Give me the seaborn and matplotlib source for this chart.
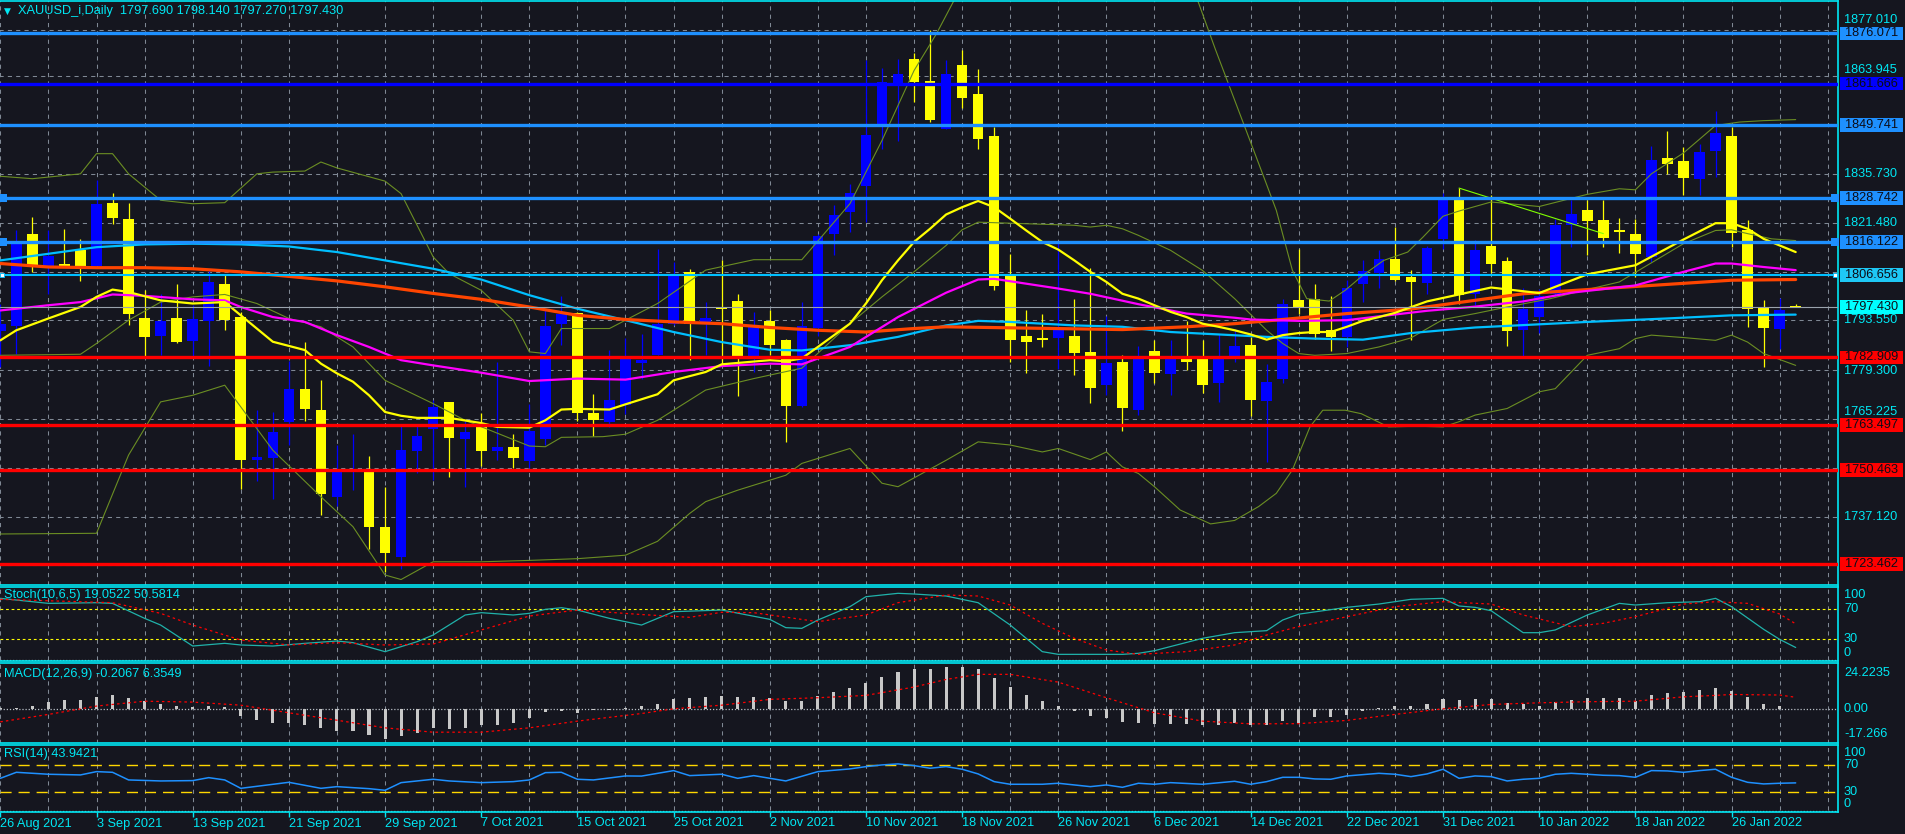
import matplotlib
matplotlib.use('Agg')
import matplotlib.pyplot as plt
import matplotlib.transforms as mtrans
from matplotlib.patches import Rectangle
import seaborn as sns

sns.set_style('dark')
plt.rcParams['font.family'] = ['Liberation Sans', 'DejaVu Sans']

# ---------------- data (bar index 0 = 26 Aug 2021) ----------------
opens = [1790.4, 1792.0, 1818.3, 1808.9, 1809.9, 1813.7, 1809.1, 1827.4, 1822.8, 1794.1,
         1789.1, 1794.1, 1787.5, 1793.3, 1804.1, 1794.4, 1753.4, 1754.1, 1764.4, 1773.8,
         1767.7, 1742.8, 1750.3, 1750.0, 1734.1, 1725.6, 1756.0, 1762.2, 1770.0, 1759.5,
         1762.9, 1756.0, 1757.2, 1753.2, 1759.5, 1792.6, 1795.7, 1767.0, 1764.4, 1769.2,
         1781.3, 1783.5, 1792.6, 1807.5, 1793.1, 1796.9, 1799.0, 1783.0, 1793.4, 1787.8,
         1768.9, 1791.4, 1818.5, 1824.7, 1832.2, 1850.1, 1861.6, 1868.8, 1862.5, 1848.5,
         1867.1, 1858.7, 1846.7, 1806.2, 1789.0, 1788.2, 1788.6, 1789.0, 1784.4, 1774.9,
         1781.5, 1767.9, 1784.7, 1778.2, 1782.3, 1782.3, 1775.4, 1782.3, 1786.4, 1770.4,
         1776.6, 1799.3, 1799.8, 1790.7, 1788.8, 1804.1, 1807.2, 1811.1, 1806.0, 1804.3,
         1817.0, 1828.2, 1801.2, 1814.8, 1810.5, 1790.7, 1794.5, 1801.0, 1820.9, 1825.4,
         1822.5, 1819.2, 1818.5, 1811.8, 1840.3, 1839.4, 1834.1, 1842.2, 1846.7, 1819.6,
         1797.2, 1791.0, 1797.69]
highs = [1798.2, 1819.4, 1823.3, 1819.4, 1819.9, 1817.0, 1834.0, 1830.3, 1827.4, 1802.2,
         1801.0, 1803.9, 1797.9, 1807.9, 1806.5, 1796.0, 1767.7, 1767.1, 1781.9, 1787.2,
         1776.5, 1757.8, 1760.8, 1754.5, 1745.7, 1763.1, 1763.1, 1770.6, 1770.0, 1764.7,
         1767.0, 1781.6, 1761.0, 1769.4, 1796.4, 1800.7, 1796.0, 1772.3, 1785.1, 1788.6,
         1789.6, 1814.2, 1810.3, 1808.4, 1798.8, 1810.8, 1801.2, 1796.0, 1796.4, 1788.3,
         1798.8, 1818.3, 1826.6, 1832.8, 1868.5, 1866.2, 1868.8, 1870.5, 1877.1, 1868.3,
         1871.2, 1865.9, 1849.3, 1812.7, 1796.4, 1795.3, 1815.8, 1799.6, 1808.7, 1794.7,
         1783.5, 1786.1, 1787.8, 1787.8, 1793.4, 1787.8, 1789.5, 1791.2, 1788.8, 1781.1,
         1799.8, 1814.2, 1804.1, 1800.5, 1805.1, 1810.8, 1813.7, 1820.4, 1807.9, 1815.0,
         1830.2, 1831.7, 1816.8, 1829.5, 1811.8, 1803.0, 1802.7, 1822.8, 1828.1, 1828.2,
         1828.2, 1823.1, 1822.8, 1843.6, 1847.9, 1843.4, 1844.3, 1853.9, 1849.3, 1822.3,
         1799.5, 1800.1, 1798.14]
lows = [1780.0, 1783.8, 1807.5, 1801.2, 1808.9, 1804.9, 1809.1, 1821.2, 1792.3, 1783.0,
        1783.5, 1787.1, 1783.3, 1780.4, 1790.7, 1745.0, 1747.3, 1742.2, 1757.6, 1764.7,
        1737.5, 1740.1, 1744.7, 1727.9, 1721.3, 1722.1, 1749.7, 1747.6, 1748.6, 1745.7,
        1751.7, 1753.4, 1751.2, 1751.2, 1757.7, 1786.4, 1764.7, 1760.2, 1762.9, 1766.6,
        1776.8, 1783.5, 1792.1, 1782.1, 1783.5, 1781.1, 1771.7, 1778.7, 1783.5, 1758.6,
        1768.7, 1789.0, 1812.3, 1819.0, 1821.8, 1842.7, 1845.1, 1856.3, 1850.6, 1848.5,
        1854.7, 1842.7, 1802.2, 1781.6, 1778.4, 1785.9, 1779.7, 1777.8, 1769.8, 1772.0,
        1761.8, 1766.3, 1775.4, 1772.0, 1779.4, 1772.7, 1770.1, 1781.6, 1766.0, 1752.9,
        1775.4, 1795.5, 1788.3, 1784.8, 1785.9, 1798.8, 1803.0, 1804.8, 1787.8, 1801.2,
        1814.2, 1798.4, 1798.0, 1807.2, 1786.2, 1783.2, 1790.0, 1800.5, 1814.6, 1812.3,
        1814.6, 1812.9, 1806.0, 1810.3, 1835.7, 1829.5, 1829.5, 1834.8, 1814.6, 1791.7,
        1780.2, 1785.4, 1797.27]
closes = [1792.6, 1815.6, 1809.4, 1812.0, 1809.1, 1809.1, 1827.1, 1823.0, 1795.5, 1788.8,
          1793.3, 1787.3, 1793.8, 1804.5, 1793.6, 1753.4, 1754.2, 1761.4, 1773.8, 1768.1,
          1743.5, 1750.3, 1750.9, 1734.2, 1726.7, 1756.2, 1760.3, 1768.5, 1759.8, 1761.4,
          1756.0, 1757.0, 1754.0, 1761.7, 1791.9, 1795.5, 1767.0, 1764.8, 1770.6, 1782.6,
          1782.1, 1792.6, 1806.5, 1792.6, 1794.3, 1796.7, 1782.6, 1791.7, 1786.4, 1768.9,
          1791.9, 1817.7, 1824.0, 1830.3, 1847.0, 1862.0, 1864.5, 1862.1, 1851.3, 1864.5,
          1857.5, 1845.8, 1803.3, 1787.8, 1787.3, 1788.0, 1791.0, 1784.2, 1774.1, 1781.3,
          1768.4, 1782.3, 1778.4, 1783.4, 1781.6, 1774.9, 1782.3, 1786.3, 1770.6, 1775.8,
          1798.2, 1797.4, 1789.7, 1788.8, 1802.9, 1807.7, 1811.1, 1805.1, 1804.6, 1814.4,
          1828.5, 1800.8, 1813.7, 1809.9, 1790.5, 1796.7, 1800.5, 1820.9, 1824.2, 1822.1,
          1817.3, 1819.1, 1812.7, 1839.7, 1838.6, 1834.5, 1841.9, 1847.5, 1818.7, 1796.7,
          1791.4, 1796.6, 1797.43]

ma_fast = [(0, 1787.8), (1, 1790.7), (3, 1794.1), (5, 1797.4), (6, 1800.3), (7, 1802.4), (8, 1801.7),
           (10, 1799.3), (12, 1798.4), (14, 1798.8), (15, 1795.0), (16, 1791.2), (17, 1787.4), (19, 1785.0),
           (20, 1781.1), (21, 1778.3), (22, 1775.9), (23, 1772.0), (24, 1767.2), (25, 1766.1), (26, 1765.5),
           (28, 1765.5), (30, 1764.0), (31, 1762.9), (33, 1762.7), (34, 1764.8), (35, 1767.9), (36, 1768.1),
           (38, 1767.9), (39, 1769.4), (41, 1772.3), (42, 1776.3), (44, 1778.7), (45, 1780.9), (46, 1781.3),
           (48, 1782.1), (49, 1781.8), (50, 1782.6), (51, 1785.9), (53, 1792.6), (54, 1798.4), (55, 1805.1),
           (56, 1810.8), (57, 1816.1), (58, 1819.9), (59, 1824.0), (60, 1826.1), (61, 1827.9), (62, 1826.1),
           (63, 1822.8), (64, 1819.4), (65, 1816.1), (66, 1813.9), (67, 1810.8), (68, 1807.5), (69, 1804.6),
           (70, 1801.2), (71, 1799.8), (72, 1797.9), (73, 1796.0), (74, 1794.5), (75, 1792.6), (76, 1791.7),
           (77, 1790.7), (78, 1789.5), (79, 1788.0), (80, 1789.3), (81, 1789.9), (82, 1790.2), (83, 1790.2),
           (84, 1791.7), (85, 1793.4), (86, 1794.5), (87, 1795.7), (89, 1799.0), (91, 1801.0), (93, 1803.0),
           (96, 1801.4), (99, 1806.8), (102, 1809.4), (105, 1816.8), (107, 1821.5), (108, 1821.5),
           (109, 1819.9), (110, 1817.0), (112, 1813.2)]
ma_magenta = [(0, 1796.4), (3, 1797.9), (5, 1798.8), (7, 1801.0), (9, 1800.6), (12, 1799.6), (14, 1799.3),
              (15, 1797.4), (17, 1794.5), (19, 1793.1), (21, 1789.3), (23, 1785.9), (25, 1782.1), (27, 1780.6),
              (30, 1778.5), (33, 1776.1), (36, 1776.8), (39, 1776.5), (42, 1778.7), (45, 1780.4), (48, 1781.1),
              (50, 1780.9), (53, 1785.9), (56, 1794.5), (59, 1801.5), (61, 1805.3), (62, 1805.5), (64, 1804.1),
              (66, 1802.7), (68, 1801.2), (71, 1798.2), (74, 1795.5), (77, 1794.3), (78, 1793.8), (81, 1793.4),
              (84, 1793.6), (86, 1794.7), (89, 1796.3), (92, 1797.5), (95, 1799.0), (98, 1801.5), (102, 1803.6),
              (105, 1807.5), (107, 1809.9), (108, 1809.9), (109, 1809.4), (110, 1808.9), (112, 1808.0)]
ma_cyan = [(0, 1810.8), (3, 1812.7), (6, 1814.6), (9, 1815.4), (12, 1815.6), (15, 1815.4), (18, 1814.8),
           (21, 1813.2), (24, 1810.8), (27, 1808.4), (30, 1805.3), (33, 1800.8), (36, 1796.9), (39, 1793.6),
           (42, 1790.2), (45, 1787.3), (48, 1785.1), (50, 1784.9), (53, 1786.4), (56, 1788.8), (59, 1792.1),
           (61, 1793.4), (63, 1793.1), (67, 1792.1), (70, 1791.7), (73, 1790.2), (76, 1789.5), (79, 1788.8),
           (82, 1788.3), (85, 1788.0), (88, 1789.9), (92, 1791.5), (99, 1793.1), (104, 1794.1), (108, 1795.0),
           (112, 1795.2)]
ma_orange = [(0, 1809.9), (3, 1808.9), (6, 1808.7), (9, 1808.7), (12, 1808.4), (15, 1807.5), (18, 1806.2),
             (21, 1804.9), (24, 1803.2), (27, 1801.3), (30, 1799.6), (33, 1797.4), (36, 1795.0), (39, 1793.8),
             (42, 1793.1), (45, 1792.6), (48, 1791.5), (51, 1790.7), (54, 1790.2), (57, 1791.2), (59, 1791.7),
             (63, 1791.4), (70, 1790.9), (74, 1791.7), (77, 1792.6), (80, 1793.8), (84, 1795.5), (88, 1796.8),
             (95, 1801.2), (102, 1803.3), (108, 1805.1), (112, 1805.3)]
bb_upper = [(0, 1835.0), (2, 1834.3), (5, 1835.7), (6, 1841.5), (7, 1841.5), (8, 1835.7), (10, 1828.1),
            (12, 1827.1), (14, 1827.4), (16, 1835.7), (17, 1836.2), (19, 1836.5), (20, 1839.1), (21, 1837.4),
            (24, 1833.6), (25, 1830.0), (27, 1811.8), (28, 1807.0), (30, 1802.2), (32, 1793.6), (33, 1784.5),
            (34, 1784.0), (35, 1791.2), (38, 1791.2), (41, 1798.4), (44, 1808.0), (47, 1811.0), (50, 1811.0),
            (53, 1827.1), (55, 1845.3), (57, 1865.4), (58.4, 1876.0), (60, 1890.0), (66, 1902.0), (72, 1896.0),
            (74.7, 1885.5), (75.8, 1871.5), (78.9, 1833.8), (79.6, 1825.2), (80.6, 1808.0), (81.5, 1799.8),
            (82.9, 1799.1), (83.9, 1802.2), (85, 1806.5), (86.3, 1810.8), (87.8, 1813.2), (88.75, 1817.5),
            (90, 1823.5), (91, 1825.0), (93, 1827.6), (96, 1826.3), (99, 1829.8), (101, 1831.4), (102, 1831.1),
            (103, 1835.7), (105, 1841.7), (107, 1849.6), (108.5, 1850.6), (110, 1851.0), (112, 1851.3)]
bb_middle = [(0, 1783.5), (5, 1783.8), (6, 1786.9), (8, 1793.6), (10, 1798.8), (12, 1800.3), (14, 1801.0),
             (16, 1798.4), (18, 1794.1), (20, 1791.7), (22, 1785.9), (24, 1776.3), (27, 1769.6), (29, 1764.8),
             (33, 1757.4), (34, 1757.2), (35, 1759.9), (37.6, 1760.1), (39, 1760.8), (41, 1764.8), (44, 1773.5),
             (47, 1776.8), (50, 1779.8), (53, 1792.6), (55, 1800.3), (57, 1807.5), (59, 1815.1), (60, 1819.6),
             (61, 1821.8), (63, 1821.5), (67, 1820.9), (68, 1820.4), (69, 1820.9), (70, 1819.9), (71, 1818.0),
             (73, 1813.7), (75, 1807.9), (77, 1799.8), (79, 1790.7), (80, 1786.9), (81, 1784.0), (82, 1783.5),
             (84, 1784.0), (86, 1785.9), (88, 1788.5), (90, 1793.8), (92, 1795.5), (94, 1797.4), (96.7, 1799.8),
             (98.8, 1802.2), (101, 1804.6), (105, 1815.6), (107, 1819.4), (108, 1819.6), (109, 1818.5),
             (110.5, 1817.0), (112, 1816.5)]
bb_lower = [(0, 1732.1), (6, 1732.3), (8, 1754.8), (10, 1770.1), (12, 1772.0), (14, 1774.9), (17, 1756.2),
            (20, 1742.8), (22, 1734.2), (24, 1720.3), (25, 1719.0), (27, 1724.1), (30, 1724.1), (33, 1724.5),
            (36, 1725.0), (39, 1726.0), (41, 1730.0), (43, 1738.0), (44, 1741.4), (46, 1744.7), (49, 1749.0),
            (50, 1752.4), (53, 1756.7), (55, 1746.7), (56, 1745.7), (59, 1753.3), (61, 1758.6), (63, 1757.7),
            (65, 1755.7), (66, 1756.7), (68, 1753.5), (69, 1755.7), (70, 1751.4), (71, 1749.5), (72, 1745.7),
            (73.6, 1739.0), (75.5, 1735.0), (77, 1736.0), (78.5, 1740.0), (79.6, 1743.8), (80.6, 1750.5),
            (81.7, 1762.9), (82.5, 1767.7), (83.9, 1767.7), (84.9, 1766.7), (86.6, 1762.9), (88.4, 1763.1),
            (90, 1762.9), (91, 1764.4), (92, 1766.3), (94, 1768.2), (96, 1773.0), (97, 1773.9), (99, 1783.5),
            (101, 1785.4), (102, 1788.3), (103, 1789.3), (105, 1788.6), (107, 1787.8), (108, 1789.3),
            (109, 1787.3), (110, 1784.0), (112, 1780.6)]
trend_line = [(91, 1831.6), (100, 1818.5)]

level_prices = [1876.071, 1861.666, 1849.741, 1828.742, 1816.122, 1806.656,
                1782.909, 1763.497, 1750.463, 1723.462]
level_colors = ['#1e90ff', '#0000ff', '#1e90ff', '#1e90ff', '#1e90ff', '#00bfff',
                '#ff0000', '#ff0000', '#ff0000', '#ff0000']
bid_price = 1797.430

price_grid = [1877.010, 1863.945, 1849.840, 1835.730, 1821.480, 1807.415,
              1793.550, 1779.300, 1765.225, 1751.170, 1737.120, 1723.050]

stoch_main = [(0, 84.6), (3, 77.9), (6, 78.8), (7, 77.9), (9, 57.9), (10, 49.0), (12, 21.0), (14, 24.6),
              (15, 22.4), (17, 21.0), (19, 24.6), (21, 27.7), (22, 25.5), (24, 13.5), (26, 26.8), (27, 35.7),
              (29, 62.4), (30, 65.5), (32, 62.4), (33, 64.6), (34, 69.9), (35, 72.1), (36, 69.0), (38, 57.9),
              (40, 49.0), (42, 66.8), (45, 69.0), (48, 56.6), (49, 45.5), (50, 44.6), (51, 55.7), (53, 73.5),
              (54, 86.8), (56, 91.3), (57, 90.4), (59, 87.7), (61, 78.8), (63, 49.0), (65, 13.5), (66, 9.9),
              (70, 9.9), (71, 11.3), (72, 14.8), (75, 31.3), (77, 38.8), (79, 41.5), (80, 55.7), (81, 63.5),
              (84, 72.6), (86, 77.0), (88, 83.3), (90, 84.6), (91, 74.4), (92, 72.6), (93, 68.1), (95, 38.8),
              (96, 38.8), (97, 42.4), (99, 62.4), (101, 77.9), (102, 75.7), (104, 78.8), (106, 80.1),
              (107, 84.6), (108, 73.5), (110, 43.3), (111, 29.9), (112, 19.05)]
stoch_signal = [(0, 83.3), (7, 78.8), (10, 64.6), (12, 49.0), (15, 29.0), (18, 22.4), (21, 25.5), (24, 22.4),
                (27, 23.7), (30, 42.4), (33, 61.0), (36, 69.0), (40, 63.0), (43, 59.3), (45, 66.0), (47, 65.5),
                (51, 53.5), (54, 62.4), (56, 78.8), (59, 89.0), (61, 87.7), (63, 75.7), (65, 51.3), (67, 31.3),
                (69, 15.7), (71, 9.9), (74, 13.5), (77, 22.4), (79, 35.7), (81, 47.0), (84, 60.1), (87, 73.5),
                (90, 80.1), (93, 77.0), (95, 62.4), (98, 46.8), (100, 51.3), (102, 60.1), (105, 77.0),
                (107, 80.1), (109, 77.9), (111, 63.7), (112, 50.58)]

macd_hist = [0.5, 0.7, 1.8, 3.7, 4.6, 4.8, 6.6, 7.4, 5.7, 4.4,
             2.9, 1.5, 1.1, 1.5, 0.9, -4.0, -6.4, -8.1, -8.1, -8.7,
             -10.7, -12.0, -12.3, -14.5, -16.4, -15.1, -13.6, -10.7, -10.9, -10.5,
             -9.0, -9.0, -8.1, -5.0, -1.8, -1.3, -2.2, -0.9, -0.4, 0.5,
             1.3, 2.4, 5.2, 5.7, 6.3, 7.0, 6.4, 6.3, 5.7, 4.1,
             4.1, 7.2, 9.0, 11.2, 14.0, 17.3, 20.1, 21.7, 21.7, 22.8,
             23.2, 21.7, 16.8, 11.8, 7.4, 4.1, 1.8, -1.3, -4.1, -5.2,
             -7.4, -8.1, -8.5, -8.5, -8.5, -9.2, -9.0, -8.1, -8.8, -9.0,
             -7.0, -7.7, -4.6, -4.6, -3.3, -1.3, 0.4, 1.3, 1.8, 2.9,
             5.2, 4.6, 5.2, 5.2, 3.3, 2.6, 1.8, 3.7, 4.8, 5.7,
             5.7, 5.7, 4.1, 7.4, 8.5, 9.0, 10.1, 11.2, 9.6, 6.3,
             2.9, 1.3, -0.21]
macd_signal = [(0, -7.2), (3, -3.1), (6, 1.5), (9, 4.2), (12, 3.7), (15, 2.0), (18, -2.2), (21, -6.3),
               (24, -10.5), (27, -12.9), (30, -12.9), (33, -10.5), (36, -6.8), (40, -2.6), (42, 0.0), (45, 2.0),
               (48, 5.2), (51, 6.1), (54, 7.4), (57, 12.0), (59, 16.2), (61, 19.0), (63, 19.0), (66, 14.7),
               (69, 6.1), (72, -2.2), (75, -6.8), (78, -8.3), (81, -8.2), (84, -6.4), (87, -3.1), (90, 0.0),
               (93, 2.4), (96, 3.3), (99, 3.9), (102, 4.2), (105, 6.6), (107, 7.4), (108, 7.9), (111, 7.6),
               (112, 6.35)]

rsi = [(0, 50.7), (1, 59.6), (3, 56.7), (5, 55.7), (6, 60.6), (7, 59.6), (8, 48.3), (10, 46.8), (12, 47.3),
       (13, 51.7), (14, 48.3), (15, 35.9), (18, 44.8), (20, 35.9), (21, 38.4), (23, 35.4), (24, 33.0),
       (25, 44.3), (27, 49.3), (28, 46.8), (30, 44.3), (32, 45.8), (33, 48.3), (34, 59.1), (35, 59.6),
       (36, 49.3), (37, 48.3), (39, 54.2), (40, 54.0), (42, 62.1), (43, 54.7), (45, 56.7), (46, 50.7),
       (47, 54.7), (49, 46.8), (51, 60.6), (53, 64.6), (54, 68.0), (55, 70.5), (56, 72.0), (57, 69.5),
       (58, 65.6), (59, 68.0), (60, 64.1), (61, 57.2), (62, 45.8), (63, 41.9), (65, 41.9), (66, 43.4),
       (68, 38.4), (69, 40.9), (70, 37.4), (71, 43.4), (72, 41.9), (73, 44.3), (75, 41.9), (77, 46.3),
       (78, 41.9), (79, 45.8), (80, 52.2), (81, 52.2), (82, 49.8), (83, 49.3), (84, 54.2), (86, 58.1),
       (87, 56.7), (88, 53.2), (89, 57.2), (90, 64.1), (91, 50.7), (92, 54.2), (93, 53.2), (94, 46.8),
       (95, 49.3), (96, 50.7), (97, 56.7), (98, 58.1), (99, 56.7), (100, 55.2), (101, 54.7), (102, 52.2),
       (103, 62.1), (104, 61.6), (105, 59.6), (106, 62.1), (107, 64.1), (108, 52.2), (109, 44.8),
       (110, 42.4), (111, 43.4), (112, 43.94)]

date_labels = ['26 Aug 2021', '3 Sep 2021', '13 Sep 2021', '21 Sep 2021', '29 Sep 2021', '7 Oct 2021',
               '15 Oct 2021', '25 Oct 2021', '2 Nov 2021', '10 Nov 2021', '18 Nov 2021', '26 Nov 2021',
               '6 Dec 2021', '14 Dec 2021', '22 Dec 2021', '31 Dec 2021', '10 Jan 2022', '18 Jan 2022',
               '26 Jan 2022']

title_text = 'XAUUSD_i,Daily  1797.690 1798.140 1797.270 1797.430'
stoch_text = 'Stoch(10,6,5) 19.0522 50.5814'
macd_text = 'MACD(12,26,9) -0.2067 6.3549'
rsi_text = 'RSI(14) 43.9421'

# ---------------- styling ----------------
W, H = 1905, 834
BG = '#15161f'
CYAN = '#00e8f4'
GRID = '#7f8894'
FS = 9.2
PX_PER_PRICE = 3.48      # vertical pixels per price unit in the main panel
BOX_H_PX = 13.5          # height of a price tag at the right axis

fig = plt.figure(figsize=(W / 100, H / 100), dpi=100, facecolor=BG)


def make_axes(top, bottom):
    ax = fig.add_axes([0, (H - bottom) / H, 1838 / W, (bottom - top) / H])
    ax.set_facecolor(BG)
    for side in ['top', 'bottom', 'right']:
        ax.spines[side].set_color(CYAN)
        ax.spines[side].set_linewidth(1.2)
    ax.spines['left'].set_visible(False)
    ax.set_xticks([])
    ax.set_yticks([])
    ax.set_xlim(-0.02, 114.64)
    ax.vlines(range(0, 115, 3), -1e4, 1e4, colors=GRID, linewidth=0.75,
              linestyles=(0, (4, 4)), zorder=0.5)
    return ax


ax = make_axes(0.6, 584.5)
ax_st = make_axes(586.5, 660.8)
ax_md = make_axes(663.3, 742.7)
ax_rs = make_axes(744.5, 812.2)

ax.set_ylim(1717.57, 1885.53)
ax_st.set_ylim(1.3, 100.4)
ax_md.set_ylim(-18.7, 25.1)
ax_rs.set_ylim(0.6, 100.7)


def ytext(a, px, val, s, **kw):
    tr = mtrans.blended_transform_factory(fig.transFigure, a.transData)
    a.text(px / W, val, s, transform=tr, va='center', ha='left', fontsize=FS,
           clip_on=False, **kw)


# ---------------- main panel ----------------
ax.hlines(price_grid, -1, 120, colors=GRID, linewidth=0.75, linestyles=(0, (4, 4)), zorder=0.5)
tag_prices = level_prices + [bid_price]
for p in price_grid:
    # the price tags of the lines cover some of the scale labels
    near = min(tag_prices, key=lambda t: abs(t - p))
    sep_px = (p - near) * PX_PER_PRICE
    if abs(sep_px) < 3:
        continue
    need = BOX_H_PX / 2 + 6.6
    shown = p
    if abs(sep_px) < need:
        shown = near + (need if sep_px > 0 else -need) / PX_PER_PRICE
    ytext(ax, 1844, shown, f'{p:.3f}', color=CYAN, zorder=5)

idx = list(range(len(opens)))
for i in idx:
    o, h, l, c = opens[i], highs[i], lows[i], closes[i]
    col = '#0000ff' if c > o else '#ffff00'
    ax.vlines(i, l, h, colors=col, linewidth=0.9, zorder=2)
    ax.bar(i, max(abs(c - o), 0.35), bottom=min(o, c), width=0.66, color=col,
           linewidth=0, zorder=2.1)

olive = '#6b8e23'
for pts in [bb_upper, bb_middle, bb_lower]:
    xs, ys = zip(*pts)
    sns.lineplot(x=list(xs), y=list(ys), ax=ax, color=olive, linewidth=0.8, zorder=2.5)
for pts, col, lw in [(ma_cyan, '#00bfff', 1.6), (ma_orange, '#ff4500', 2.3),
                     (ma_magenta, '#ff00ff', 1.6), (ma_fast, '#ffff00', 1.6)]:
    xs, ys = zip(*pts)
    sns.lineplot(x=list(xs), y=list(ys), ax=ax, color=col, linewidth=lw, zorder=3)
xs, ys = zip(*trend_line)
sns.lineplot(x=list(xs), y=list(ys), ax=ax, color='#7fff00', linewidth=0.8, zorder=3)

ax.axhline(bid_price, color='#9aa3ad', linewidth=0.8, zorder=3.5)
for p, col in zip(level_prices, level_colors):
    lw = 1.5 if p == 1806.656 else 2.4
    ax.axhline(p, color=col, linewidth=lw, zorder=4)

# end handles of selected lines
tr_px = mtrans.blended_transform_factory(fig.transFigure, ax.transData)
for p in [1828.742, 1816.122]:
    ax.scatter([3 / W, 1834.5 / W], [p, p], marker='s', s=30, color='#1e90ff',
               transform=tr_px, clip_on=False, zorder=6, linewidths=0)
ax.scatter([2 / W, 1835 / W], [1806.656, 1806.656], marker='s', s=9, color='white',
           edgecolors='#00bfff', transform=tr_px, clip_on=False, zorder=6, linewidths=0.6)

# price tags at the right axis
box_h = BOX_H_PX / PX_PER_PRICE
for p, col in list(zip(level_prices, level_colors)) + [(bid_price, '#00ffff')]:
    face = '#1ec8f5' if p == 1806.656 else col
    ax.add_patch(Rectangle((1840 / W, p - box_h / 2), 63 / W, box_h, transform=tr_px,
                           facecolor=face, edgecolor='none', clip_on=False, zorder=8))
    ytext(ax, 1845, p, f'{p:.3f}', color='#0c0c16', zorder=9)

# title
fig.text(4 / W, 1 - 11 / H, '\u25bc', color=CYAN, fontsize=6.5, va='center', ha='left',
         family='DejaVu Sans')
fig.text(18 / W, 1 - 11 / H, title_text, color=CYAN, fontsize=FS, va='center', ha='left')

# ---------------- stochastic ----------------
ax_st.axhline(70, color='#ffff00', linewidth=0.8, linestyle=(0, (2.5, 2.5)), zorder=1)
ax_st.axhline(30, color='#ffff00', linewidth=0.8, linestyle=(0, (2.5, 2.5)), zorder=1)
ax_st.axhline(2.2, color='#a9b0b8', linewidth=0.9, linestyle=(0, (1, 1.5)), zorder=1)
xs, ys = zip(*stoch_main)
sns.lineplot(x=list(xs), y=list(ys), ax=ax_st, color='#20b2aa', linewidth=0.9, zorder=3)
xs, ys = zip(*stoch_signal)
sns.lineplot(x=list(xs), y=list(ys), ax=ax_st, color='#ff0000', linewidth=0.9,
             linestyle=(0, (2, 2.5)), zorder=3)
ax_st.text(4 / 1838, 89, stoch_text, transform=mtrans.blended_transform_factory(ax_st.transAxes, ax_st.transData),
           color=CYAN, fontsize=FS, va='center', ha='left', zorder=5)
for val, s in [(89, '100'), (70, '70'), (30, '30'), (11.3, '0')]:
    ytext(ax_st, 1844, val, s, color=CYAN)

# ---------------- MACD ----------------
ax_md.axhline(0, color='#b8bec6', linewidth=0.9, linestyle=(0, (1, 1.5)), zorder=1)
ax_md.bar(idx, macd_hist, width=0.19, color='#c8c8c8', linewidth=0, zorder=2)
xs, ys = zip(*macd_signal)
sns.lineplot(x=list(xs), y=list(ys), ax=ax_md, color='#ff0000', linewidth=0.9,
             linestyle=(0, (2, 2.5)), zorder=3)
ax_md.text(4 / 1838, 19.2, macd_text, transform=mtrans.blended_transform_factory(ax_md.transAxes, ax_md.transData),
           color=CYAN, fontsize=FS, va='center', ha='left', zorder=5)
for val, s in [(19.9, '24.2235'), (0, '0.00'), (-14.1, '-17.266')]:
    ytext(ax_md, 1844, val, s, color=CYAN)

# ---------------- RSI ----------------
ax_rs.axhline(70, color='#ffd700', linewidth=1.0, linestyle=(0, (8, 5)), zorder=1)
ax_rs.axhline(30, color='#ffd700', linewidth=1.0, linestyle=(0, (8, 5)), zorder=1)
ax_rs.axhline(2.0, color='#a9b0b8', linewidth=0.9, linestyle=(0, (1, 1.5)), zorder=1)
xs, ys = zip(*rsi)
sns.lineplot(x=list(xs), y=list(ys), ax=ax_rs, color='#1e90ff', linewidth=1.1, zorder=3)
ax_rs.text(4 / 1838, 87, rsi_text, transform=mtrans.blended_transform_factory(ax_rs.transAxes, ax_rs.transData),
           color=CYAN, fontsize=FS, va='center', ha='left', zorder=5)
for val, s in [(87.9, '100'), (70, '70'), (30, '30'), (12.3, '0')]:
    ytext(ax_rs, 1844, val, s, color=CYAN)

for a in [ax, ax_st, ax_md, ax_rs]:
    a.set_xlabel('')
    a.set_ylabel('')
    a.set_xlim(-0.02, 114.64)

# ---------------- date axis ----------------
tick_idx = list(range(0, 6 * len(date_labels), 6))
tr_date = mtrans.blended_transform_factory(ax_rs.transData, fig.transFigure)
ax_rs.vlines(tick_idx, 1 - 817 / H, 1 - 812 / H, colors=CYAN, linewidth=1.0,
             transform=tr_date, clip_on=False)
for t, s in zip(tick_idx, date_labels):
    ax_rs.text(t, 1 - 823.5 / H, s, transform=tr_date, color=CYAN, fontsize=FS,
               va='center', ha='left', clip_on=False)

fig.savefig('out.png', dpi=100, facecolor=BG)
